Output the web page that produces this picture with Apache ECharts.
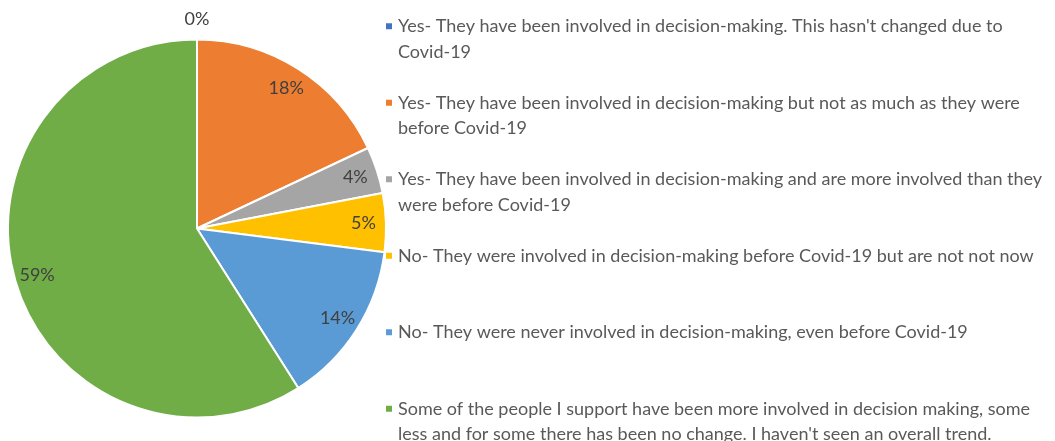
<!DOCTYPE html>
<html>
<head>
<meta charset="utf-8">
<script src="https://cdn.jsdelivr.net/npm/echarts@6/dist/echarts.min.js"></script>
<style>
  html, body { margin: 0; padding: 0; background: #ffffff; }
  #chart { width: 1055px; height: 441px; }
</style>
</head>
<body>
<div id="chart"></div>
<script>
// answer categories (line breaks where the legend wraps)
const categories = [
  'Yes- They have been involved in decision-making. This hasn\'t changed due to\nCovid-19',
  'Yes- They have been involved in decision-making but not as much as they were\nbefore Covid-19',
  'Yes- They have been involved in decision-making and are more involved than they\nwere before Covid-19',
  'No- They were involved in decision-making before Covid-19 but are not not now',
  'No- They were never involved in decision-making, even before Covid-19',
  'Some of the people I support have been more involved in decision making, some\nless and for some there has been no change. I haven\'t seen an overall trend.'
];
// share of answers, percent
const values = [0, 18, 4, 5, 14, 59];

const palette = ['#4472C4', '#ED7D31', '#A5A5A5', '#FFC000', '#5B9BD5', '#70AD47'];
const textFont = "Lato, Roboto, sans-serif";
const center = [197, 228.5];
const radius = 189;

const chart = echarts.init(document.getElementById('chart'));

const pieData = values.map((v, i) => ({
  value: v,
  name: categories[i],
  itemStyle: { color: palette[i] },
  // a zero slice gets its label just outside the pie
  label: v === 0 ? { show: true, position: 'outside', distanceToLabelLine: 0 } : { show: false }
}));

const labelData = values.map((v, i) => ({
  value: v,
  name: categories[i],
  label: { show: v !== 0 }
}));

const option = {
  animation: false,
  legend: {
    orient: 'vertical',
    left: 384,
    top: -12,
    height: 520,
    padding: 0,
    icon: 'rect',
    itemWidth: 8,
    itemHeight: 8,
    itemGap: 0,
    selectedMode: false,
    data: categories.map((n, i) => ({ name: n, itemStyle: { color: palette[i] } })),
    formatter: function (name) {
      // pad so the marker sits on the first text line and every item is the same height
      return '\n' + name + (name.indexOf('\n') < 0 ? '\n' : '');
    },
    textStyle: {
      color: '#595959',
      fontSize: 18,
      lineHeight: 25.5,
      fontFamily: textFont
    }
  },
  series: [
    {
      type: 'pie',
      center: center,
      radius: [0, radius],
      startAngle: 90,
      clockwise: true,
      silent: true,
      itemStyle: { borderColor: '#ffffff', borderWidth: 2 },
      label: {
        formatter: '{c}%',
        color: '#404040',
        fontSize: 18,
        fontFamily: textFont
      },
      labelLine: { show: false, length: 20, length2: 0 },
      labelLayout: function () {
        return { align: 'center' };
      },
      data: pieData
    },
    {
      // transparent ring that only carries the percentage labels near the rim
      type: 'pie',
      center: center,
      radius: [138, radius],
      startAngle: 90,
      clockwise: true,
      silent: true,
      itemStyle: { color: 'rgba(0,0,0,0)', borderWidth: 0 },
      label: {
        position: 'inside',
        formatter: '{c}%',
        color: '#404040',
        fontSize: 18,
        fontFamily: textFont
      },
      labelLine: { show: false },
      data: labelData
    }
  ]
};

chart.setOption(option);
</script>
</body>
</html>
